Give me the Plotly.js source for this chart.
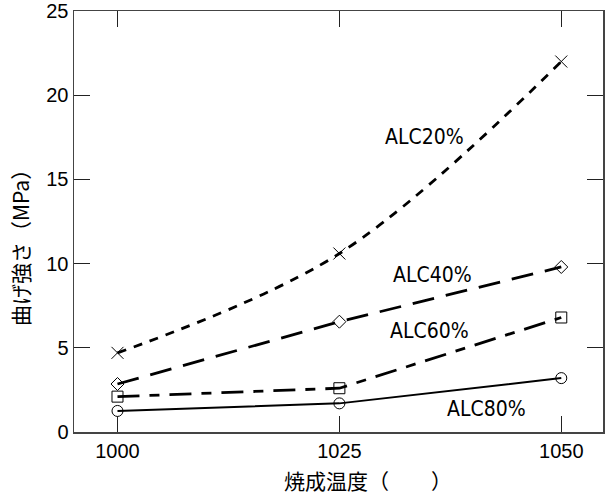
<!DOCTYPE html>
<html><head><meta charset="utf-8">
<script src="https://cdn.plot.ly/plotly-3.0.1.min.js"></script>
<style>body{margin:0;background:#fff}#c{width:607px;height:497px}</style>
</head><body><div id="c"></div>
<script>
const temps = [1000, 1025, 1050];
const alc20 = [4.7, 10.6, 22.0];
const alc40 = [2.85, 6.55, 9.8];
const alc60 = [2.1, 2.6, 6.8];
const alc80 = [1.25, 1.7, 3.2];
const labels = ['ALC20%', 'ALC40%', 'ALC60%', 'ALC80%'];
const labelX = [1029.9, 1030.8, 1030.5, 1036.9];
const labelY = [17.5, 9.3, 6.0, 1.35];
const xTitle = '焼成温度（　　）';
const yTitle = '曲げ強さ（MPa）';

const lab = {family: '"Liberation Sans Narrow", "DejaVu Sans Condensed", Arial, sans-serif', size: 21, color: '#000'};
const cjk = {family: '"Noto Sans CJK JP", sans-serif', size: 21, color: '#000'};
function tr(y, dash, w, sym, size, shape){
  return {x: temps, y: y, type: 'scatter', mode: 'lines+markers',
    line: {color: '#000', width: w, dash: dash, shape: shape || 'linear', smoothing: 1},
    marker: {symbol: sym, size: size, color: '#000', line: {color: '#000', width: 1}}};
}
const data = [
  tr(alc20, '9px,8px', 2.8, 'x-thin-open', 12, 'spline'),
  tr(alc40, '22px,12px', 2.8, 'diamond-open', 10),
  tr(alc60, '22px,10px,10px,10px', 2.8, 'square-open', 11),
  tr(alc80, 'solid', 2, 'circle-open', 11)
];
const ann = labels.map((t, i) => ({x: labelX[i], y: labelY[i], text: t, showarrow: false, font: lab, xanchor: 'left'}));
ann.push({xref: 'paper', yref: 'paper', x: 0.556, y: -0.114, text: xTitle, showarrow: false, font: cjk, xanchor: 'center', yanchor: 'middle'});
ann.push({xref: 'paper', yref: 'paper', x: -0.102, y: 0.449, text: yTitle, showarrow: false, font: cjk, textangle: -90, xanchor: 'center', yanchor: 'middle'});
const layout = {
  width: 607, height: 497, showlegend: false,
  margin: {l: 74, r: 4, t: 11, b: 65},
  paper_bgcolor: '#fff', plot_bgcolor: '#fff',
  font: {family: '"Liberation Sans", Arial, sans-serif', color: '#000', size: 20},
  xaxis: {range: [995.1, 1054.7], tickvals: temps, ticktext: temps.map(String),
    ticks: 'inside', ticklen: 16, tickwidth: 1.3, tickcolor: '#222',
    showline: true, linecolor: '#444', linewidth: 1.5, mirror: 'ticks', showgrid: false, zeroline: false,
    tickfont: {size: 20}},
  yaxis: {range: [0, 25], tickvals: [0, 5, 10, 15, 20, 25],
    ticks: 'inside', ticklen: 16, tickwidth: 1.3, tickcolor: '#222',
    showline: true, linecolor: '#444', linewidth: 1.5, mirror: 'ticks', showgrid: false, zeroline: false,
    tickfont: {size: 20}},
  annotations: ann
};
Plotly.newPlot('c', data, layout, {displayModeBar: false, staticPlot: true});
</script></body></html>
